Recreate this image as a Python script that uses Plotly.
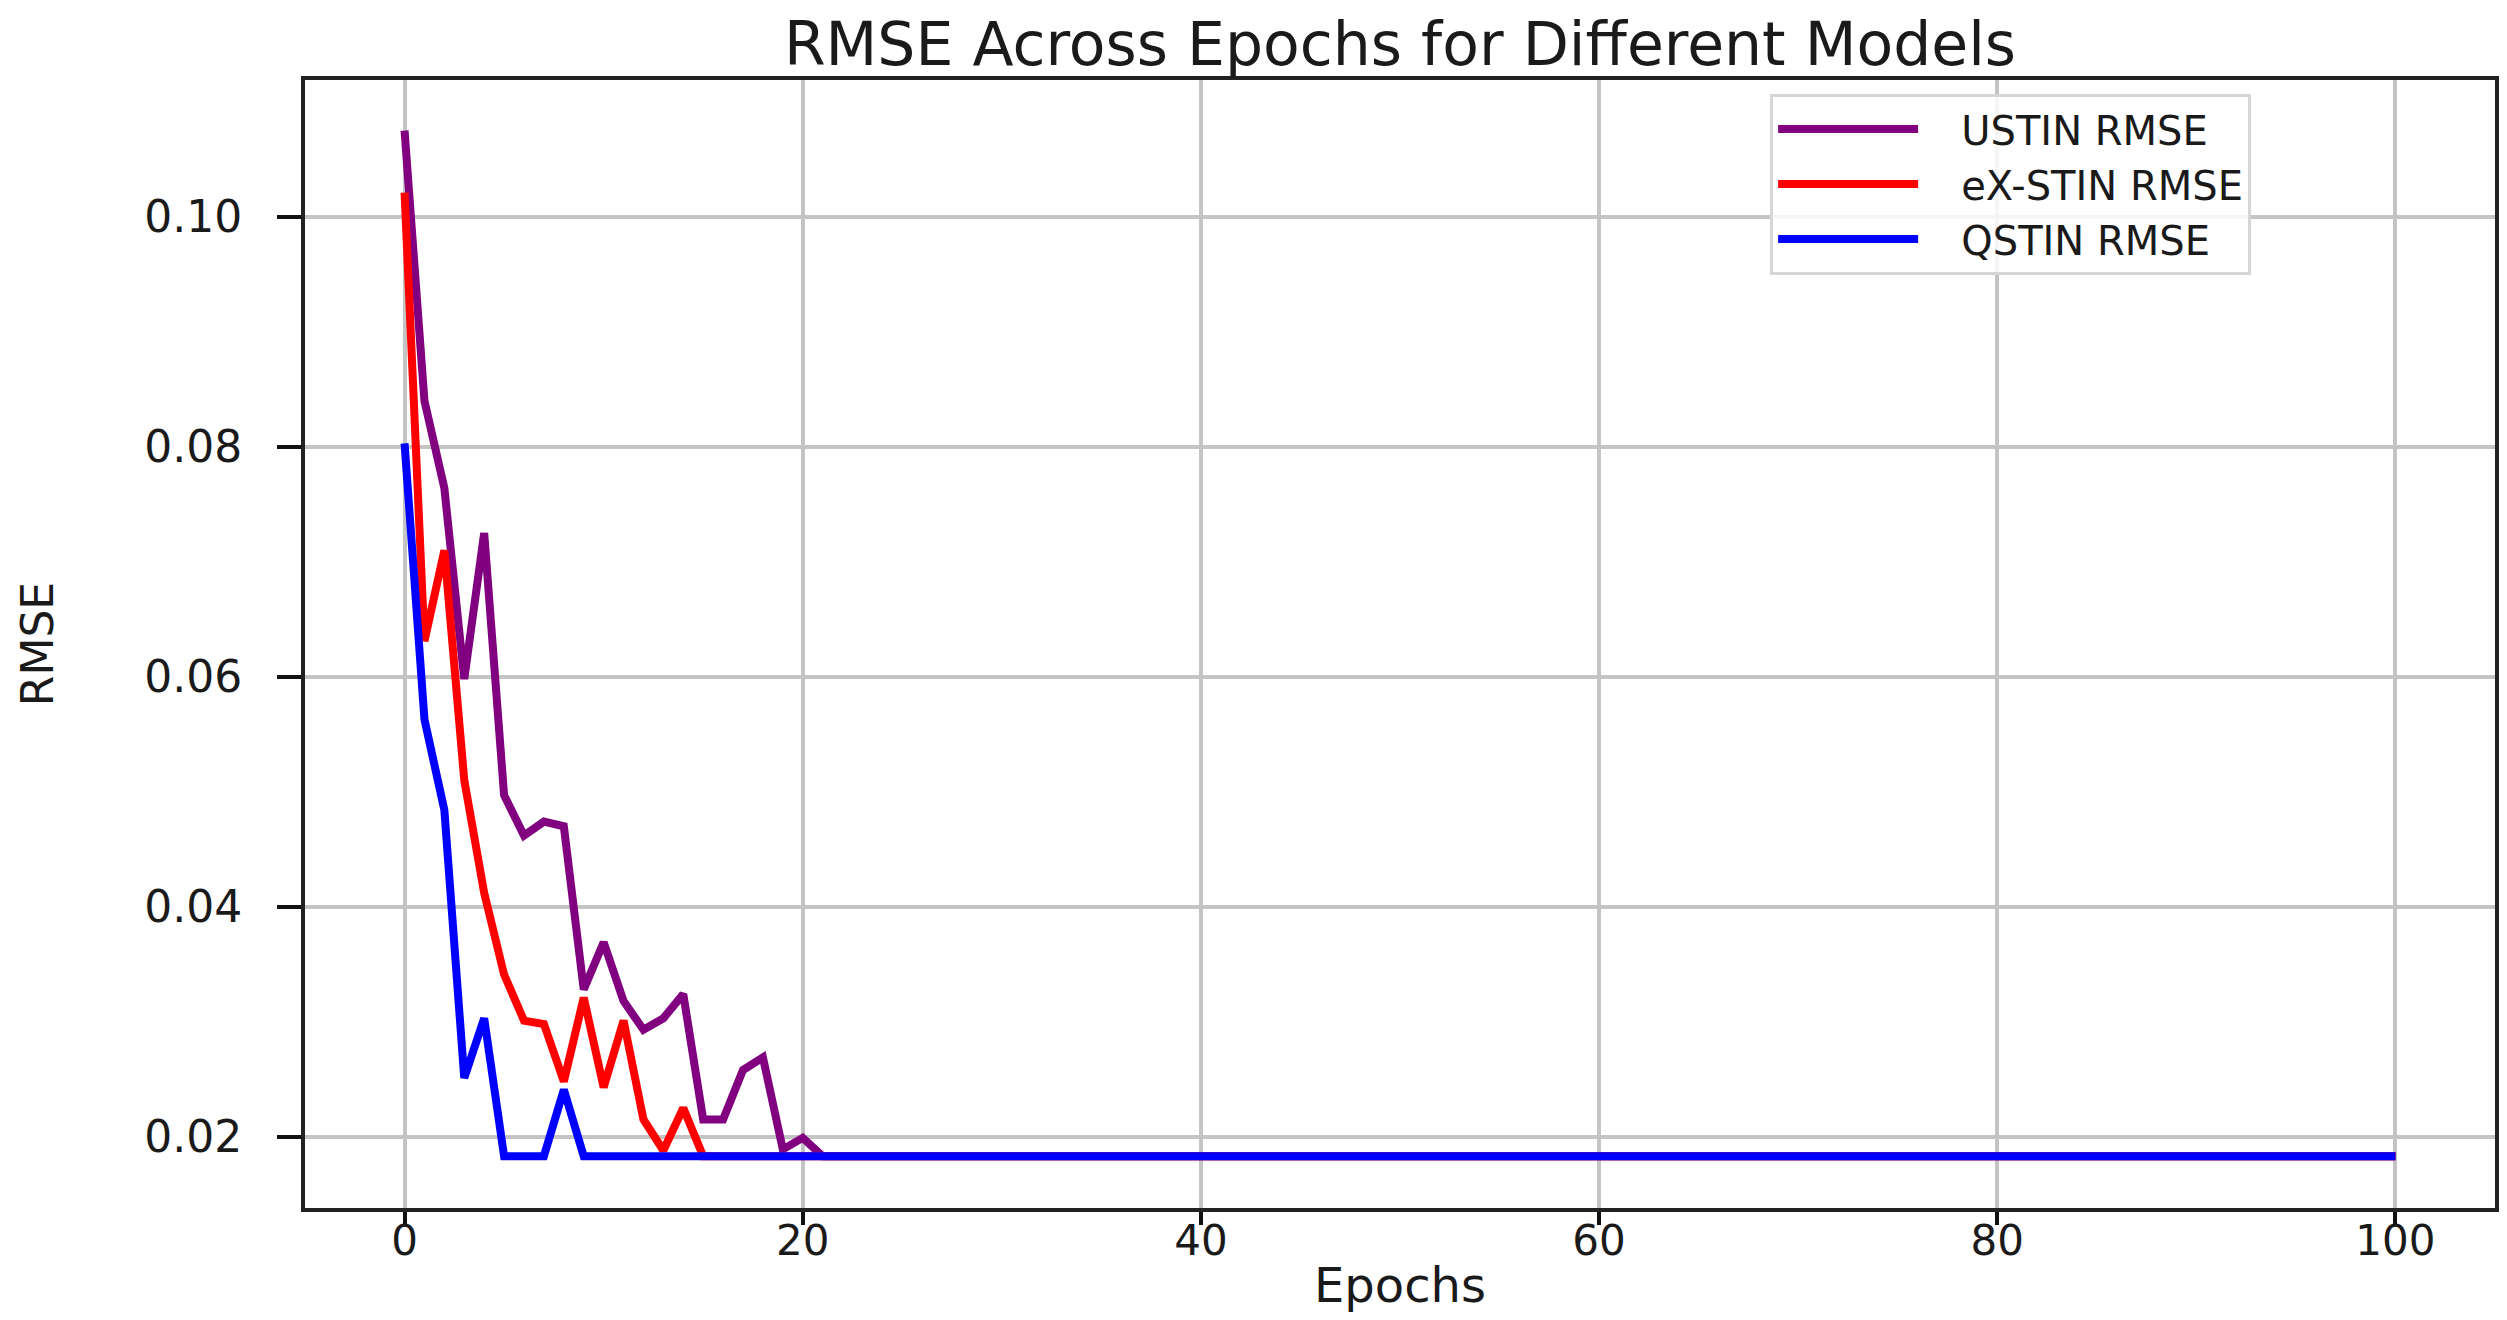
import plotly.graph_objects as go

epochs = list(range(101))

ustin_rmse = [
    0.1075, 0.0840, 0.0764, 0.0598, 0.0725, 0.0497, 0.0462, 0.0474, 0.0470, 0.0328,
    0.0369, 0.0318, 0.0293, 0.0303, 0.0324, 0.0215, 0.0215, 0.0258, 0.0269, 0.0189,
    0.0199, 0.0183, 0.0183, 0.0183, 0.0183, 0.0183, 0.0183, 0.0183, 0.0183, 0.0183,
    0.0183, 0.0183, 0.0183, 0.0183, 0.0183, 0.0183, 0.0183, 0.0183, 0.0183, 0.0183,
    0.0183, 0.0183, 0.0183, 0.0183, 0.0183, 0.0183, 0.0183, 0.0183, 0.0183, 0.0183,
    0.0183, 0.0183, 0.0183, 0.0183, 0.0183, 0.0183, 0.0183, 0.0183, 0.0183, 0.0183,
    0.0183, 0.0183, 0.0183, 0.0183, 0.0183, 0.0183, 0.0183, 0.0183, 0.0183, 0.0183,
    0.0183, 0.0183, 0.0183, 0.0183, 0.0183, 0.0183, 0.0183, 0.0183, 0.0183, 0.0183,
    0.0183, 0.0183, 0.0183, 0.0183, 0.0183, 0.0183, 0.0183, 0.0183, 0.0183, 0.0183,
    0.0183, 0.0183, 0.0183, 0.0183, 0.0183, 0.0183, 0.0183, 0.0183, 0.0183, 0.0183,
    0.0183,
]

exstin_rmse = [
    0.1021, 0.0631, 0.0710, 0.0510, 0.0412, 0.0341, 0.0301, 0.0298, 0.0248, 0.0321,
    0.0243, 0.0301, 0.0215, 0.0188, 0.0225, 0.0183, 0.0183, 0.0183, 0.0183, 0.0183,
    0.0183, 0.0183, 0.0183, 0.0183, 0.0183, 0.0183, 0.0183, 0.0183, 0.0183, 0.0183,
    0.0183, 0.0183, 0.0183, 0.0183, 0.0183, 0.0183, 0.0183, 0.0183, 0.0183, 0.0183,
    0.0183, 0.0183, 0.0183, 0.0183, 0.0183, 0.0183, 0.0183, 0.0183, 0.0183, 0.0183,
    0.0183, 0.0183, 0.0183, 0.0183, 0.0183, 0.0183, 0.0183, 0.0183, 0.0183, 0.0183,
    0.0183, 0.0183, 0.0183, 0.0183, 0.0183, 0.0183, 0.0183, 0.0183, 0.0183, 0.0183,
    0.0183, 0.0183, 0.0183, 0.0183, 0.0183, 0.0183, 0.0183, 0.0183, 0.0183, 0.0183,
    0.0183, 0.0183, 0.0183, 0.0183, 0.0183, 0.0183, 0.0183, 0.0183, 0.0183, 0.0183,
    0.0183, 0.0183, 0.0183, 0.0183, 0.0183, 0.0183, 0.0183, 0.0183, 0.0183, 0.0183,
    0.0183,
]

qstin_rmse = [
    0.0803, 0.0563, 0.0484, 0.0251, 0.0303, 0.0183, 0.0183, 0.0183, 0.0241, 0.0183,
    0.0183, 0.0183, 0.0183, 0.0183, 0.0183, 0.0183, 0.0183, 0.0183, 0.0183, 0.0183,
    0.0183, 0.0183, 0.0183, 0.0183, 0.0183, 0.0183, 0.0183, 0.0183, 0.0183, 0.0183,
    0.0183, 0.0183, 0.0183, 0.0183, 0.0183, 0.0183, 0.0183, 0.0183, 0.0183, 0.0183,
    0.0183, 0.0183, 0.0183, 0.0183, 0.0183, 0.0183, 0.0183, 0.0183, 0.0183, 0.0183,
    0.0183, 0.0183, 0.0183, 0.0183, 0.0183, 0.0183, 0.0183, 0.0183, 0.0183, 0.0183,
    0.0183, 0.0183, 0.0183, 0.0183, 0.0183, 0.0183, 0.0183, 0.0183, 0.0183, 0.0183,
    0.0183, 0.0183, 0.0183, 0.0183, 0.0183, 0.0183, 0.0183, 0.0183, 0.0183, 0.0183,
    0.0183, 0.0183, 0.0183, 0.0183, 0.0183, 0.0183, 0.0183, 0.0183, 0.0183, 0.0183,
    0.0183, 0.0183, 0.0183, 0.0183, 0.0183, 0.0183, 0.0183, 0.0183, 0.0183, 0.0183,
    0.0183,
]

series_names = ["USTIN RMSE", "eX-STIN RMSE", "QSTIN RMSE"]
series_colors = ["#800080", "#ff0000", "#0000ff"]

x_ticks = [0, 20, 40, 60, 80, 100]
y_ticks = [0.02, 0.04, 0.06, 0.08, 0.10]
y_tick_labels = ["0.02", "0.04", "0.06", "0.08", "0.10"]

FONT = "DejaVu Sans"
TXT = "#1a1a1a"
GAP = "\u00a0\u00a0\u00a0"  # visual gap between legend line and label

fig = go.Figure()
for name, ys, col in zip(series_names, [ustin_rmse, exstin_rmse, qstin_rmse], series_colors):
    fig.add_trace(go.Scatter(
        x=epochs, y=ys, mode="lines", name=GAP + name,
        line=dict(color=col, width=8),
    ))

fig.update_layout(
    width=2507, height=1320,
    margin=dict(l=297, r=20, t=72, b=120, autoexpand=False),
    paper_bgcolor="white", plot_bgcolor="white",
    font=dict(family=FONT, color=TXT),
    title=dict(
        text="RMSE Across Epochs for Different Models",
        font=dict(family=FONT, size=60, color=TXT),
        x=(297 + 2487) / 2 / 2507, xanchor="center",
        y=1 - 36 / 1320, yanchor="middle",
    ),
    showlegend=True,
    legend=dict(
        x=0.669, y=0.988, xanchor="left", yanchor="top",
        bgcolor="rgba(255,255,255,0.85)",
        bordercolor="#d6d6d6", borderwidth=3,
        font=dict(family=FONT, size=40, color=TXT),
        itemwidth=140,
        tracegroupgap=0,
    ),
)

fig.update_xaxes(
    range=[-5, 105],
    tickmode="array", tickvals=x_ticks,
    ticks="outside", ticklen=13, tickwidth=4, tickcolor="#111",
    tickfont=dict(family=FONT, size=42, color=TXT),
    ticklabelstandoff=-20,
    showline=True, linecolor="#222", linewidth=4, mirror=True,
    showgrid=True, gridcolor="#c4c4c4", gridwidth=4,
    zeroline=False,
    title=dict(text="Epochs", font=dict(family=FONT, size=48, color=TXT), standoff=5),
    automargin=False,
)

fig.update_yaxes(
    range=[0.0138, 0.1119],
    tickmode="array", tickvals=y_ticks, ticktext=y_tick_labels,
    ticks="outside", ticklen=24, tickwidth=4, tickcolor="#111",
    tickfont=dict(family=FONT, size=44, color=TXT),
    ticklabelstandoff=26,
    showline=True, linecolor="#222", linewidth=4, mirror=True,
    showgrid=True, gridcolor="#c4c4c4", gridwidth=4,
    zeroline=False,
    title=dict(text="RMSE", font=dict(family=FONT, size=44, color=TXT), standoff=78),
    automargin=False,
)

fig.write_html("out.html")
